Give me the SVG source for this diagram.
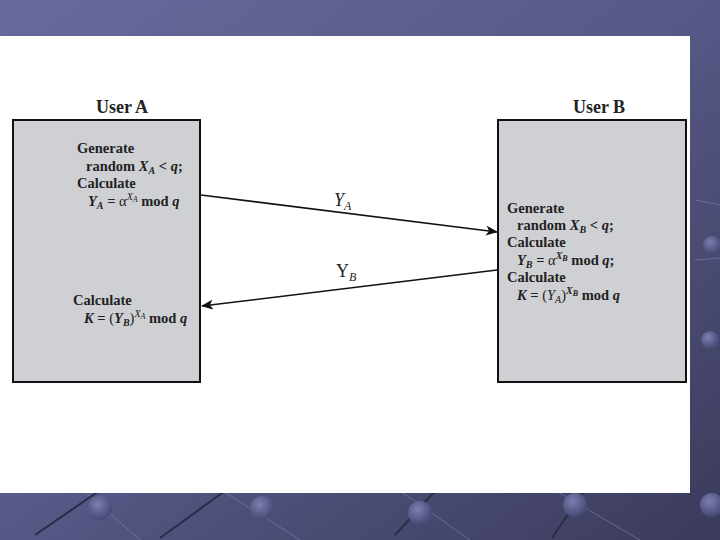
<svg xmlns="http://www.w3.org/2000/svg" width="720" height="540" viewBox="0 0 720 540">
<defs>
<linearGradient id="bg" x1="0" y1="0" x2="1" y2="1">
<stop offset="0" stop-color="#686a9c"/>
<stop offset="0.5" stop-color="#565886"/>
<stop offset="1" stop-color="#3a3b5a"/>
</linearGradient>
<radialGradient id="ball" cx="0.4" cy="0.35" r="0.6">
<stop offset="0" stop-color="#7c7fb0"/>
<stop offset="1" stop-color="#4a4c78"/>
</radialGradient>
<marker id="ah" viewBox="0 0 12 10" refX="11" refY="5" markerWidth="12" markerHeight="10" markerUnits="userSpaceOnUse" orient="auto">
<path d="M0,0 L12,5 L0,10 L3,5 Z" fill="#111"/>
</marker>
<style>
.box{fill:#cfd0d4;stroke:#111;stroke-width:2}
.t{font-family:"Liberation Serif","Times New Roman",serif;font-weight:bold;font-size:14.5px;fill:#222}
.h{font-family:"Liberation Serif","Times New Roman",serif;font-weight:bold;font-size:18px;fill:#222}
.i{font-style:italic}
.s{font-size:10px}
.r{font-weight:normal}
.lbl{font-family:"Liberation Serif","Times New Roman",serif;font-size:18px;fill:#222}
.conn{stroke:#111;stroke-width:1.5;fill:none}
.deco{stroke:#2a2b45;stroke-width:2}
.decol{stroke:#8083b5;stroke-width:1;opacity:0.6}
</style>
</defs>
<rect width="720" height="540" fill="url(#bg)"/>
<g id="decoration">
<line class="decol" x1="60" y1="470" x2="140" y2="540"/>
<line class="deco" x1="35" y1="535" x2="115" y2="480"/>
<circle cx="100" cy="508" r="12" fill="url(#ball)"/>
<line class="decol" x1="190" y1="470" x2="300" y2="540"/>
<line class="deco" x1="160" y1="538" x2="240" y2="480"/>
<circle cx="262" cy="508" r="12" fill="url(#ball)"/>
<line class="decol" x1="370" y1="470" x2="470" y2="540"/>
<line class="deco" x1="395" y1="535" x2="445" y2="480"/>
<circle cx="420" cy="513" r="12" fill="url(#ball)"/>
<line class="decol" x1="520" y1="470" x2="640" y2="540"/>
<line class="deco" x1="552" y1="538" x2="590" y2="482"/>
<circle cx="575" cy="505" r="12" fill="url(#ball)"/>
<circle cx="712" cy="505" r="12" fill="url(#ball)"/>
<circle cx="712" cy="245" r="9" fill="url(#ball)"/>
<circle cx="710" cy="340" r="9" fill="url(#ball)"/>
<line class="decol" x1="695" y1="200" x2="720" y2="205"/>
<line class="decol" x1="695" y1="260" x2="720" y2="258"/>
</g>
<rect x="0" y="36" width="690" height="457" fill="#ffffff"/>
<g id="userA">
<text class="h" x="122" y="113" text-anchor="middle">User A</text>
<rect class="box" x="13" y="120" width="187" height="262"/>
<text class="t" x="77" y="153">Generate</text>
<text class="t" x="86" y="171">random <tspan class="i">X</tspan><tspan class="i s" dy="3">A</tspan><tspan dy="-3"> &lt; </tspan><tspan class="i">q</tspan>;</text>
<text class="t" x="77" y="188">Calculate</text>
<text class="t" x="88" y="206"><tspan class="i">Y</tspan><tspan class="i s" dy="3">A</tspan><tspan dy="-3"> = </tspan><tspan class="r">α</tspan><tspan class="i s r" dy="-6">X</tspan><tspan class="i r" font-size="8" dy="2">A</tspan><tspan dy="4"> mod </tspan><tspan class="i">q</tspan></text>
<text class="t" x="73" y="305">Calculate</text>
<text class="t" x="84" y="323"><tspan class="i">K</tspan> = <tspan class="r">(</tspan><tspan class="i">Y</tspan><tspan class="i s" dy="3">B</tspan><tspan class="r" dy="-3">)</tspan><tspan class="i s r" dy="-6">X</tspan><tspan class="i r" font-size="8" dy="2">A</tspan><tspan dy="4"> mod </tspan><tspan class="i">q</tspan></text>
</g>
<g id="userB">
<text class="h" x="599" y="113" text-anchor="middle">User B</text>
<rect class="box" x="498" y="120" width="188" height="262"/>
<text class="t" x="507" y="213">Generate</text>
<text class="t" x="517" y="230">random <tspan class="i">X</tspan><tspan class="i s" dy="3">B</tspan><tspan dy="-3"> &lt; </tspan><tspan class="i">q</tspan>;</text>
<text class="t" x="507" y="247">Calculate</text>
<text class="t" x="517" y="265"><tspan class="i">Y</tspan><tspan class="i s" dy="3">B</tspan><tspan dy="-3"> = </tspan><tspan class="r">α</tspan><tspan class="i s" dy="-6">X</tspan><tspan class="i" font-size="8" dy="2">B</tspan><tspan dy="4"> mod </tspan><tspan class="i">q</tspan>;</text>
<text class="t" x="507" y="282">Calculate</text>
<text class="t" x="517" y="300"><tspan class="i">K</tspan> = <tspan class="r">(</tspan><tspan class="i r">Y</tspan><tspan class="i s r" dy="3">A</tspan><tspan class="r" dy="-3">)</tspan><tspan class="i s" dy="-6">X</tspan><tspan class="i" font-size="8" dy="2">B</tspan><tspan dy="4"> mod </tspan><tspan class="i">q</tspan></text>
</g>
<g id="connectors">
<line class="conn" x1="201" y1="195" x2="497" y2="232" marker-end="url(#ah)"/>
<line class="conn" x1="497" y1="270" x2="202" y2="306" marker-end="url(#ah)"/>
<text class="lbl" x="334" y="206"><tspan class="i">Y</tspan><tspan class="i" font-size="12" dy="4">A</tspan></text>
<text class="lbl" x="336" y="277">Y<tspan class="i" font-size="12" dy="4">B</tspan></text>
</g>
</svg>
